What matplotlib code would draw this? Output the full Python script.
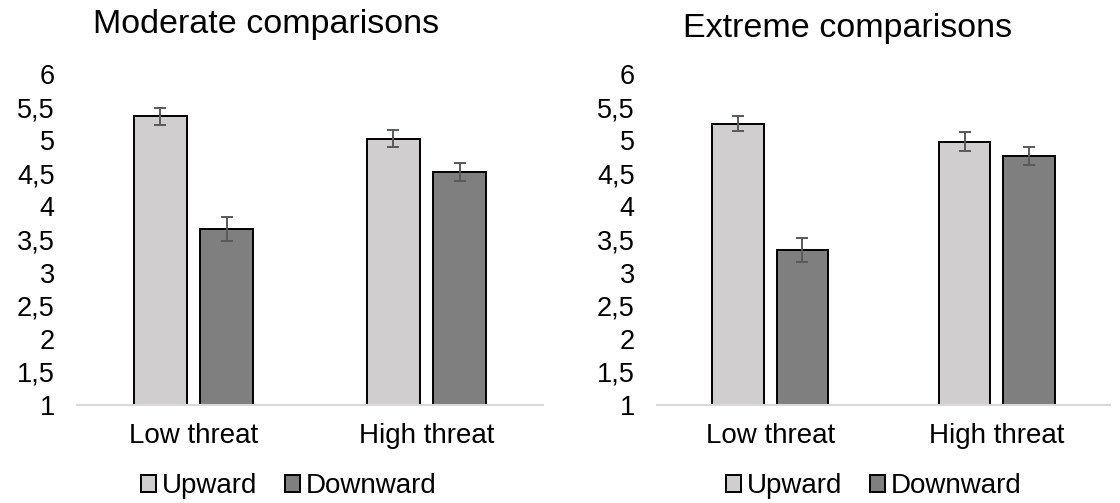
import numpy as np
import matplotlib
matplotlib.use('Agg')
import matplotlib.pyplot as plt
from matplotlib.ticker import FuncFormatter

plt.rcParams['font.family'] = ['Liberation Sans', 'DejaVu Sans']

# data
threats = ['Low threat', 'High threat']
series = ['Upward', 'Downward']

moderate_up = [5.36, 5.02]
moderate_down = [3.66, 4.52]
moderate_up_err = [0.13, 0.13]
moderate_down_err = [0.18, 0.13]

extreme_up = [5.25, 4.98]
extreme_down = [3.34, 4.76]
extreme_up_err = [0.11, 0.15]
extreme_down_err = [0.18, 0.14]

up_color = '#d0cecf'
down_color = '#7f7f7f'
err_color = '#595959'

fig = plt.figure(figsize=(11.2, 5.03), dpi=100)

ax1 = fig.add_axes([77/1120, 1-405/503, 466/1120, 331/503])
ax2 = fig.add_axes([657/1120, 1-405/503, 453/1120, 331/503])

comma = FuncFormatter(lambda v, p: ('%g' % v).replace('.', ','))

def draw_panel(ax, up, down, up_err, down_err):
    x = np.arange(len(threats))
    w = 0.228
    off = 0.142
    b1 = ax.bar(x - off, np.array(up) - 1, w, bottom=1, color=up_color,
                edgecolor='black', linewidth=1.4, label=series[0], zorder=2)
    b2 = ax.bar(x + off, np.array(down) - 1, w, bottom=1, color=down_color,
                edgecolor='black', linewidth=1.4, label=series[1], zorder=2)
    ax.errorbar(x - off, up, yerr=up_err, fmt='none', ecolor=err_color,
                elinewidth=1.4, capsize=4.5, capthick=1.4, zorder=3)
    ax.errorbar(x + off, down, yerr=down_err, fmt='none', ecolor=err_color,
                elinewidth=1.4, capsize=4.5, capthick=1.4, zorder=3)
    ax.set_xlim(-0.5, 1.5)
    ax.set_ylim(1, 6)
    ax.set_yticks(np.arange(1, 6.01, 0.5))
    ax.yaxis.set_major_formatter(comma)
    ax.set_xticks(x)
    ax.set_xticklabels(threats)
    for s in ['top', 'right', 'left']:
        ax.spines[s].set_visible(False)
    ax.spines['bottom'].set_color('#d9d9d9')
    ax.spines['bottom'].set_linewidth(1.5)
    ax.tick_params(axis='y', length=0, pad=16, labelsize=19.5)
    ax.tick_params(axis='x', length=0, pad=13, labelsize=20)
    return b1, b2

h1 = draw_panel(ax1, moderate_up, moderate_down, moderate_up_err, moderate_down_err)
h2 = draw_panel(ax2, extreme_up, extreme_down, extreme_up_err, extreme_down_err)

fig.text(266/1120, 1-25/503, 'Moderate comparisons', ha='center', va='center', fontsize=24.5)
fig.text(848/1120, 1-29/503, 'Extreme comparisons', ha='center', va='center', fontsize=24.5)

for handles, cx in [(h1, 289), (h2, 874)]:
    fig.legend(handles, series, loc='center', bbox_to_anchor=(cx/1120, 1-486/503),
               ncol=2, frameon=False, fontsize=20, handlelength=0.55,
               handleheight=0.55, handletextpad=0.2, columnspacing=1.0)

fig.savefig('out.png', dpi=100)
